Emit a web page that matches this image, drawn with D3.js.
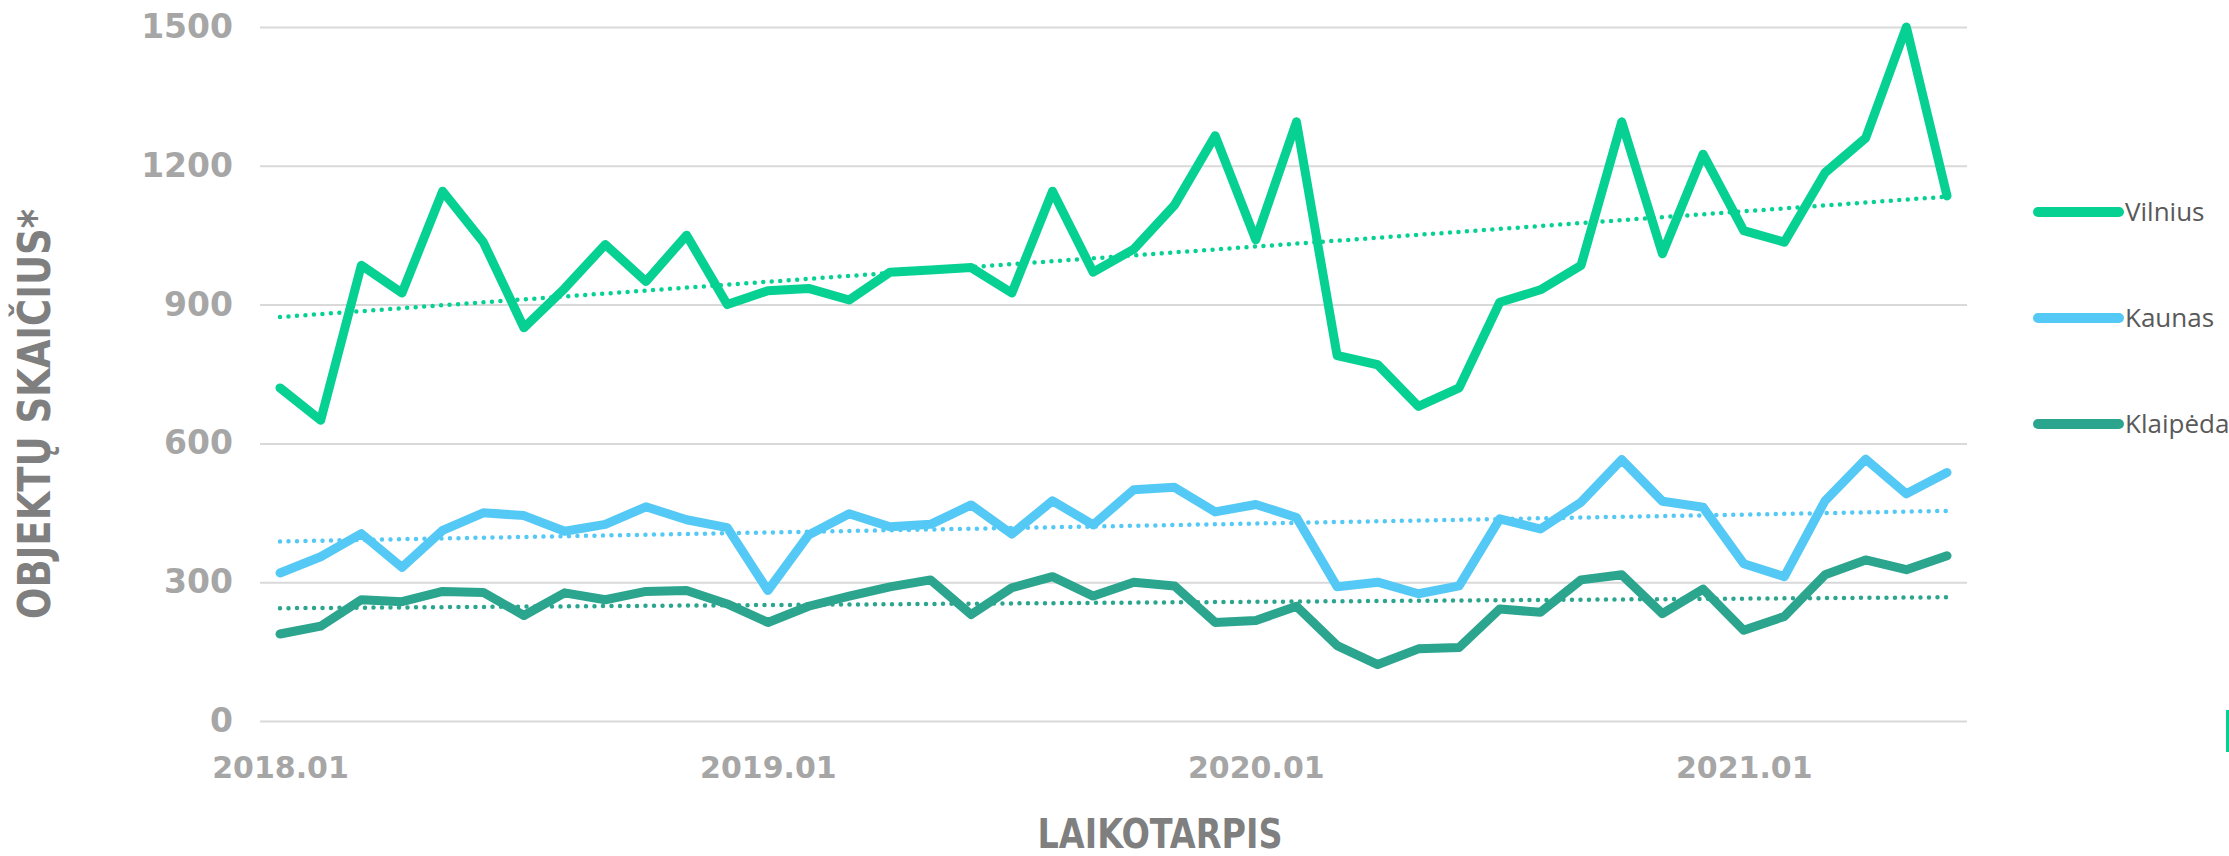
<!DOCTYPE html>
<meta charset="utf-8">
<style>
  body { margin: 0; background: #fff; }
  .tick text { font-family: "DejaVu Sans", sans-serif; font-weight: bold; fill: #a6a6a6; }
</style>
<body>
<div id="chart"></div>
<script src="https://d3js.org/d3.v7.min.js"></script>
<script>

var months = [
  "2018.01","2018.02","2018.03","2018.04","2018.05","2018.06","2018.07","2018.08","2018.09","2018.10","2018.11","2018.12",
  "2019.01","2019.02","2019.03","2019.04","2019.05","2019.06","2019.07","2019.08","2019.09","2019.10","2019.11","2019.12",
  "2020.01","2020.02","2020.03","2020.04","2020.05","2020.06","2020.07","2020.08","2020.09","2020.10","2020.11","2020.12",
  "2021.01","2021.02","2021.03","2021.04","2021.05","2021.06"
];

var vilnius = [
  720, 650, 985, 925, 1145, 1035, 850, 935, 1030, 950, 1050, 900,
  930, 935, 910, 970, 975, 980, 925, 1145, 970, 1020, 1115, 1265,
  1040, 1295, 790, 770, 680, 720, 905, 932, 985, 1295, 1010, 1225,
  1060, 1035, 1185, 1260, 1500, 1135
];

var kaunas = [
  320, 355, 405, 332, 412, 450, 444, 410, 425, 463, 435, 418,
  282, 402, 448, 420, 425, 467, 404, 476, 424, 500, 505, 452,
  468, 440, 290, 300, 275, 292, 437, 415, 473, 565, 475, 462,
  340, 312, 476, 566, 491, 537
];

var klaipeda = [
  188, 205, 262, 258, 280, 278, 228, 277, 262, 280, 282, 253,
  213, 248, 270, 290, 305, 230, 288, 312, 270, 300, 292, 213,
  217, 248, 163, 122, 156, 159, 242, 235, 305, 316, 232, 285,
  196, 226, 316, 348, 327, 357
];

var seriesNames = ["Vilnius", "Kaunas", "Klaipėda"];
var seriesColors = ["#07d192", "#55c9f5", "#2ca58f"];
var yTicks = [0, 300, 600, 900, 1200, 1500];
var xTickLabels = ["2018.01", "2019.01", "2020.01", "2021.01"];

var W = 2229, H = 856;
var plotLeft = 260, plotRight = 1967;

var svg = d3.select("#chart")
  .append("svg")
    .attr("width", W)
    .attr("height", H);

var x = d3.scalePoint()
  .domain(months)
  .range([280, 1947]);

var y = d3.scaleLinear()
  .domain([0, 1500])
  .range([721, 27]);

// gridlines + y labels
var yAxis = svg.append("g")
  .attr("transform", "translate(" + plotLeft + ",0)")
  .call(d3.axisLeft(y).tickValues(yTicks).tickFormat(d3.format("d"))
    .tickSize(-(plotRight - plotLeft)).tickPadding(27));
yAxis.select(".domain").remove();
yAxis.selectAll(".tick line").attr("stroke", "#d9d9d9").attr("stroke-width", 2);
yAxis.selectAll(".tick text").style("font-size", "33px");

// x labels
var xAxis = svg.append("g")
  .attr("transform", "translate(0,757)")
  .call(d3.axisBottom(x).tickValues(xTickLabels).tickSize(0).tickPadding(0));
xAxis.select(".domain").remove();
xAxis.selectAll(".tick text").style("font-size", "30px");

// axis titles
svg.append("text")
  .attr("transform", "translate(50,414) rotate(-90)")
  .attr("text-anchor", "middle")
  .attr("textLength", 410)
  .attr("lengthAdjust", "spacingAndGlyphs")
  .style("font-family", "'Liberation Sans Narrow', 'DejaVu Sans Condensed', sans-serif")
  .style("font-weight", "bold")
  .style("font-size", "44px")
  .style("fill", "#7f7f7f")
  .text("OBJEKTŲ SKAIČIUS*");

svg.append("text")
  .attr("x", 1160)
  .attr("y", 848)
  .attr("text-anchor", "middle")
  .attr("textLength", 245)
  .attr("lengthAdjust", "spacingAndGlyphs")
  .style("font-family", "'Liberation Sans Narrow', 'DejaVu Sans Condensed', sans-serif")
  .style("font-weight", "bold")
  .style("font-size", "40px")
  .style("fill", "#7f7f7f")
  .text("LAIKOTARPIS");

var allSeries = [vilnius, kaunas, klaipeda];

var line = d3.line()
  .x(function(d, i) { return x(months[i]); })
  .y(function(d) { return y(d); });

allSeries.forEach(function(values, k) {
  svg.append("path")
    .datum(values)
    .attr("fill", "none")
    .attr("stroke", seriesColors[k])
    .attr("stroke-width", 9)
    .attr("stroke-linejoin", "round")
    .attr("stroke-linecap", "round")
    .attr("d", line);
});

// linear trend lines (least squares, like the spreadsheet trendline)
function trend(values) {
  var n = values.length;
  var mx = d3.mean(values, function(d, i) { return i; });
  var my = d3.mean(values);
  var sxy = 0, sxx = 0;
  values.forEach(function(v, i) { sxy += (i - mx) * (v - my); sxx += (i - mx) * (i - mx); });
  var b = sxy / sxx, a = my - b * mx;
  return [[0, a], [n - 1, a + b * (n - 1)]];
}

allSeries.forEach(function(values, k) {
  var t = trend(values);
  svg.append("line")
    .attr("x1", x(months[t[0][0]]))
    .attr("y1", y(t[0][1]))
    .attr("x2", x(months[t[1][0]]))
    .attr("y2", y(t[1][1]))
    .attr("stroke", seriesColors[k])
    .attr("stroke-width", 4.5)
    .attr("stroke-linecap", "round")
    .attr("stroke-dasharray", "0,8.5");
});

// legend
var legend = svg.append("g");
var legendY = [212, 318, 424];
seriesNames.forEach(function(name, k) {
  legend.append("line")
    .attr("x1", 2038).attr("x2", 2119)
    .attr("y1", legendY[k]).attr("y2", legendY[k])
    .attr("stroke", seriesColors[k])
    .attr("stroke-width", 10)
    .attr("stroke-linecap", "round");
  legend.append("text")
    .attr("x", 2125)
    .attr("y", legendY[k])
    .attr("dy", "0.36em")
    .style("font-family", "'Open Sans', 'Noto Sans', sans-serif")
    .style("font-size", "26px")
    .style("fill", "#595959")
    .text(name);
});

// clipped item at the right edge
svg.append("rect")
  .attr("x", 2226).attr("y", 710)
  .attr("width", 3).attr("height", 42)
  .attr("fill", seriesColors[0]);

</script>
